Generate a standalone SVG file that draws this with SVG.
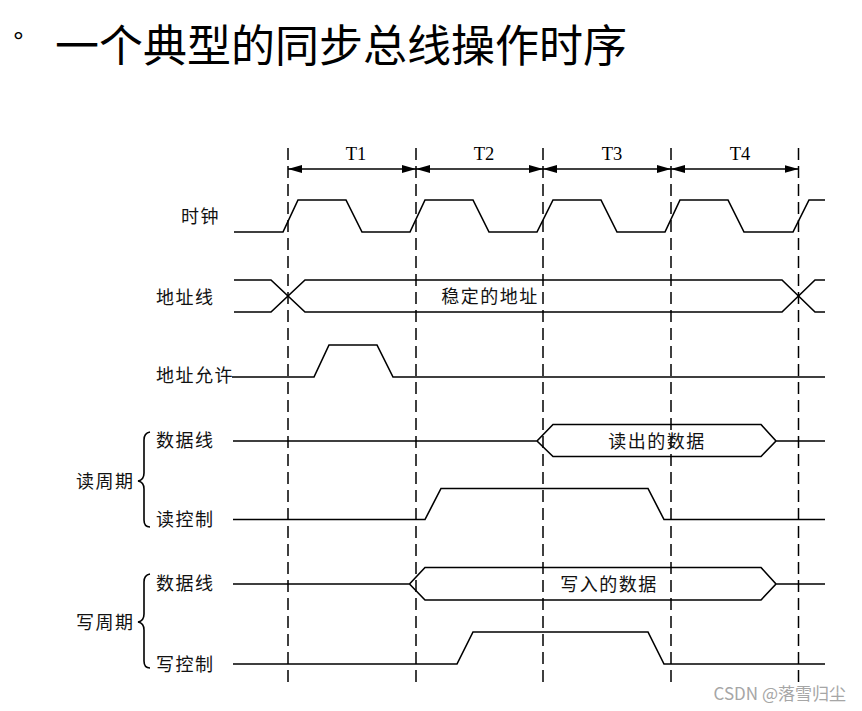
<svg xmlns="http://www.w3.org/2000/svg" width="862" height="711" viewBox="0 0 862 711">
<defs>
<marker id="ah" viewBox="0 0 14 8" refX="14" refY="4" markerWidth="14" markerHeight="8" markerUnits="userSpaceOnUse" orient="auto-start-reverse">
<path d="M0,0 L14,4 L0,8 Z" fill="#000"/>
</marker>
</defs>
<style>
.sig{fill:none;stroke:#000;stroke-width:1.6;stroke-linejoin:miter}
.dash{fill:none;stroke:#000;stroke-width:1.5;stroke-dasharray:12 6}
.arr{fill:none;stroke:#000;stroke-width:1.5;marker-start:url(#ah);marker-end:url(#ah)}
.lbl{font-family:"Noto Sans CJK SC","Noto Sans",sans-serif;font-size:18px;letter-spacing:1.5px;fill:#111}
.tl{font-family:"Liberation Serif",serif;font-size:18.5px;fill:#000;text-anchor:middle}
.mid{text-anchor:middle}
</style>
<rect width="862" height="711" fill="#fff"/>
<g id="title">
<text x="13" y="51" font-family="Liberation Sans, sans-serif" font-size="27" fill="#000">°</text>
<text x="55" y="62" font-family="Noto Sans CJK SC, sans-serif" font-size="44" fill="#000">一个典型的同步总线操作时序</text>
</g>
<g id="grid">
<line class="dash" x1="288" y1="148" x2="288" y2="683"/>
<line class="dash" x1="416" y1="148" x2="416" y2="683"/>
<line class="dash" x1="543" y1="148" x2="543" y2="683"/>
<line class="dash" x1="671" y1="148" x2="671" y2="683"/>
<line class="dash" x1="798.5" y1="148" x2="798.5" y2="683"/>
</g>
<g id="periods">
<line class="arr" x1="288" y1="169" x2="416" y2="169"/>
<line class="arr" x1="416" y1="169" x2="543" y2="169"/>
<line class="arr" x1="543" y1="169" x2="671" y2="169"/>
<line class="arr" x1="671" y1="169" x2="798.5" y2="169"/>
<text class="tl" x="356" y="160">T1</text>
<text class="tl" x="484" y="160">T2</text>
<text class="tl" x="612" y="160">T3</text>
<text class="tl" x="740" y="160">T4</text>
</g>
<g id="clock">
<text class="lbl" x="181" y="223">时钟</text>
<path class="sig" d="M234,232 H283 L298,200 H346 L362,232 H410 L425,200 H473 L489,232 H537 L553,200 H601 L617,232 H665 L680,200 H728 L744,232 H793 L809,200 H825"/>
</g>
<g id="address">
<text class="lbl" x="156" y="303.5">地址线</text>
<path class="sig" d="M234,280 H271 L305,312 H782 L815,280 H825"/>
<path class="sig" d="M234,312 H271 L305,280 H782 L815,312 H825"/>
<text class="lbl mid" x="490" y="303">稳定的地址</text>
</g>
<g id="address-enable">
<text class="lbl" x="156" y="381.5">地址允许</text>
<path class="sig" d="M232,377 H314 L329,345 H377 L393,377 H825"/>
</g>
<g id="read-cycle">
<text class="lbl" x="76" y="488">读周期</text>
<path class="sig" d="M150,432 Q144,433 144,440 V473 Q144,480 138,481 Q144,482 144,489 V520 Q144,527 150,527"/>
<g id="read-data">
<text class="lbl" x="156" y="447">数据线</text>
<path class="sig" d="M233,441 H537 L553,424.5 H761 L776,441 L761,456.5 H553 L537,441 M776,441 H825"/>
<text class="lbl mid" x="657" y="448">读出的数据</text>
</g>
<g id="read-control">
<text class="lbl" x="156" y="526">读控制</text>
<path class="sig" d="M233,519.5 H425 L441,488.5 H648 L664,519.5 H825"/>
</g>
</g>
<g id="write-cycle">
<text class="lbl" x="76" y="628.5">写周期</text>
<path class="sig" d="M150,574 Q144,575 144,582 V614 Q144,621 138,622 Q144,623 144,630 V661 Q144,668 150,668"/>
<g id="write-data">
<text class="lbl" x="156" y="590">数据线</text>
<path class="sig" d="M233,584 H409.5 L425,567.5 H761 L776,584 L761,600 H425 L409.5,584 M776,584 H825"/>
<text class="lbl mid" x="609" y="591">写入的数据</text>
</g>
<g id="write-control">
<text class="lbl" x="156" y="671">写控制</text>
<path class="sig" d="M233,664 H457 L473,632 H648 L664,664 H825"/>
</g>
</g>
<text x="846" y="700" text-anchor="end" font-family="Noto Sans CJK SC, sans-serif" font-size="17" fill="#a6a6a6">CSDN @落雪归尘</text>
</svg>
